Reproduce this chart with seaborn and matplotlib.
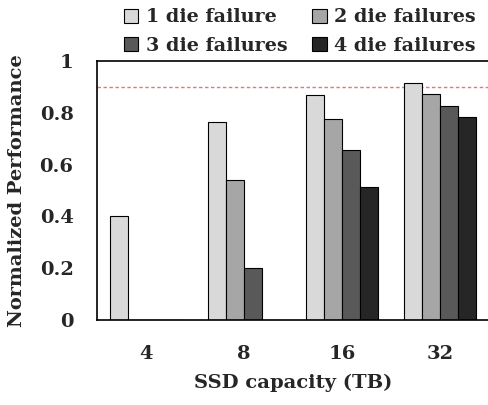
import matplotlib
matplotlib.use("Agg")
import matplotlib.pyplot as plt
import seaborn as sns
import pandas as pd

capacities = ["4", "8", "16", "32"]
series = ["1 die failure", "2 die failures", "3 die failures", "4 die failures"]
one_die = [0.40, 0.765, 0.868, 0.916]
two_die = [0.0, 0.542, 0.777, 0.875]
three_die = [0.0, 0.20, 0.656, 0.826]
four_die = [0.0, 0.0, 0.514, 0.785]
colors = ["#D9D9D9", "#A6A6A6", "#595959", "#262626"]
threshold = 0.9

sns.set_style("white")
plt.rcParams["font.family"] = ["DejaVu Serif"]
plt.rcParams["font.weight"] = "bold"

rows = []
for name, vals in zip(series, [one_die, two_die, three_die, four_die]):
    for cap, v in zip(capacities, vals):
        rows.append({"capacity": cap, "failures": name, "perf": v})
df = pd.DataFrame(rows)

fig = plt.figure(figsize=(4.88, 4.05), dpi=100)
ax = fig.add_axes([0.199, 0.21, 0.803, 0.639])

sns.barplot(data=df, x="capacity", y="perf", hue="failures", order=capacities,
            hue_order=series, palette=colors, width=0.735, gap=0,
            edgecolor="black", linewidth=0.8, saturation=1, ax=ax)

ax.axhline(threshold, color="#E07A76", linestyle=(0, (2.5, 1.8)), linewidth=1.0, zorder=0)

ax.set_xlim(-0.5, 3.5)
ax.set_ylim(0, 1)
ax.set_yticks([0, 0.2, 0.4, 0.6, 0.8, 1.0])
ax.set_yticklabels(["0", "0.2", "0.4", "0.6", "0.8", "1"])
ax.set_xticks([0, 1, 2, 3])
ax.set_xticklabels(capacities)
ax.set_xticks([-0.5, 0.5, 1.5, 2.5, 3.5], minor=True)
ax.tick_params(axis="x", which="major", length=0, pad=18, labelsize=14)
ax.tick_params(axis="x", which="minor", length=6, width=1.2, direction="out", color="black")
ax.tick_params(axis="y", length=6, width=1.2, direction="out", color="black", labelsize=14, pad=11)
for lbl in ax.get_xticklabels() + ax.get_yticklabels():
    lbl.set_fontweight("bold")

ax.set_xlabel("SSD capacity (TB)", fontsize=14, fontweight="bold", labelpad=8)
ax.set_ylabel("Normalized Performance", fontsize=14, fontweight="bold", labelpad=10)

for side in ["left", "bottom", "top"]:
    ax.spines[side].set_color("black")
    ax.spines[side].set_linewidth(1.2)
ax.spines["right"].set_visible(False)

# legend laid out row-wise: 1 | 2 on top, 3 | 4 below
handles, labels = ax.get_legend_handles_labels()
ax.legend_.remove()
order = [0, 2, 1, 3]
fig.legend([handles[i] for i in order], [labels[i] for i in order], ncol=2,
           loc="upper left", bbox_to_anchor=(0.218, 1.022),
           frameon=False, handlelength=0.75, handleheight=0.75,
           handletextpad=0.4, columnspacing=1.3, labelspacing=0.55,
           prop={"weight": "bold", "size": 13.8})

fig.savefig("out.png", dpi=100)
